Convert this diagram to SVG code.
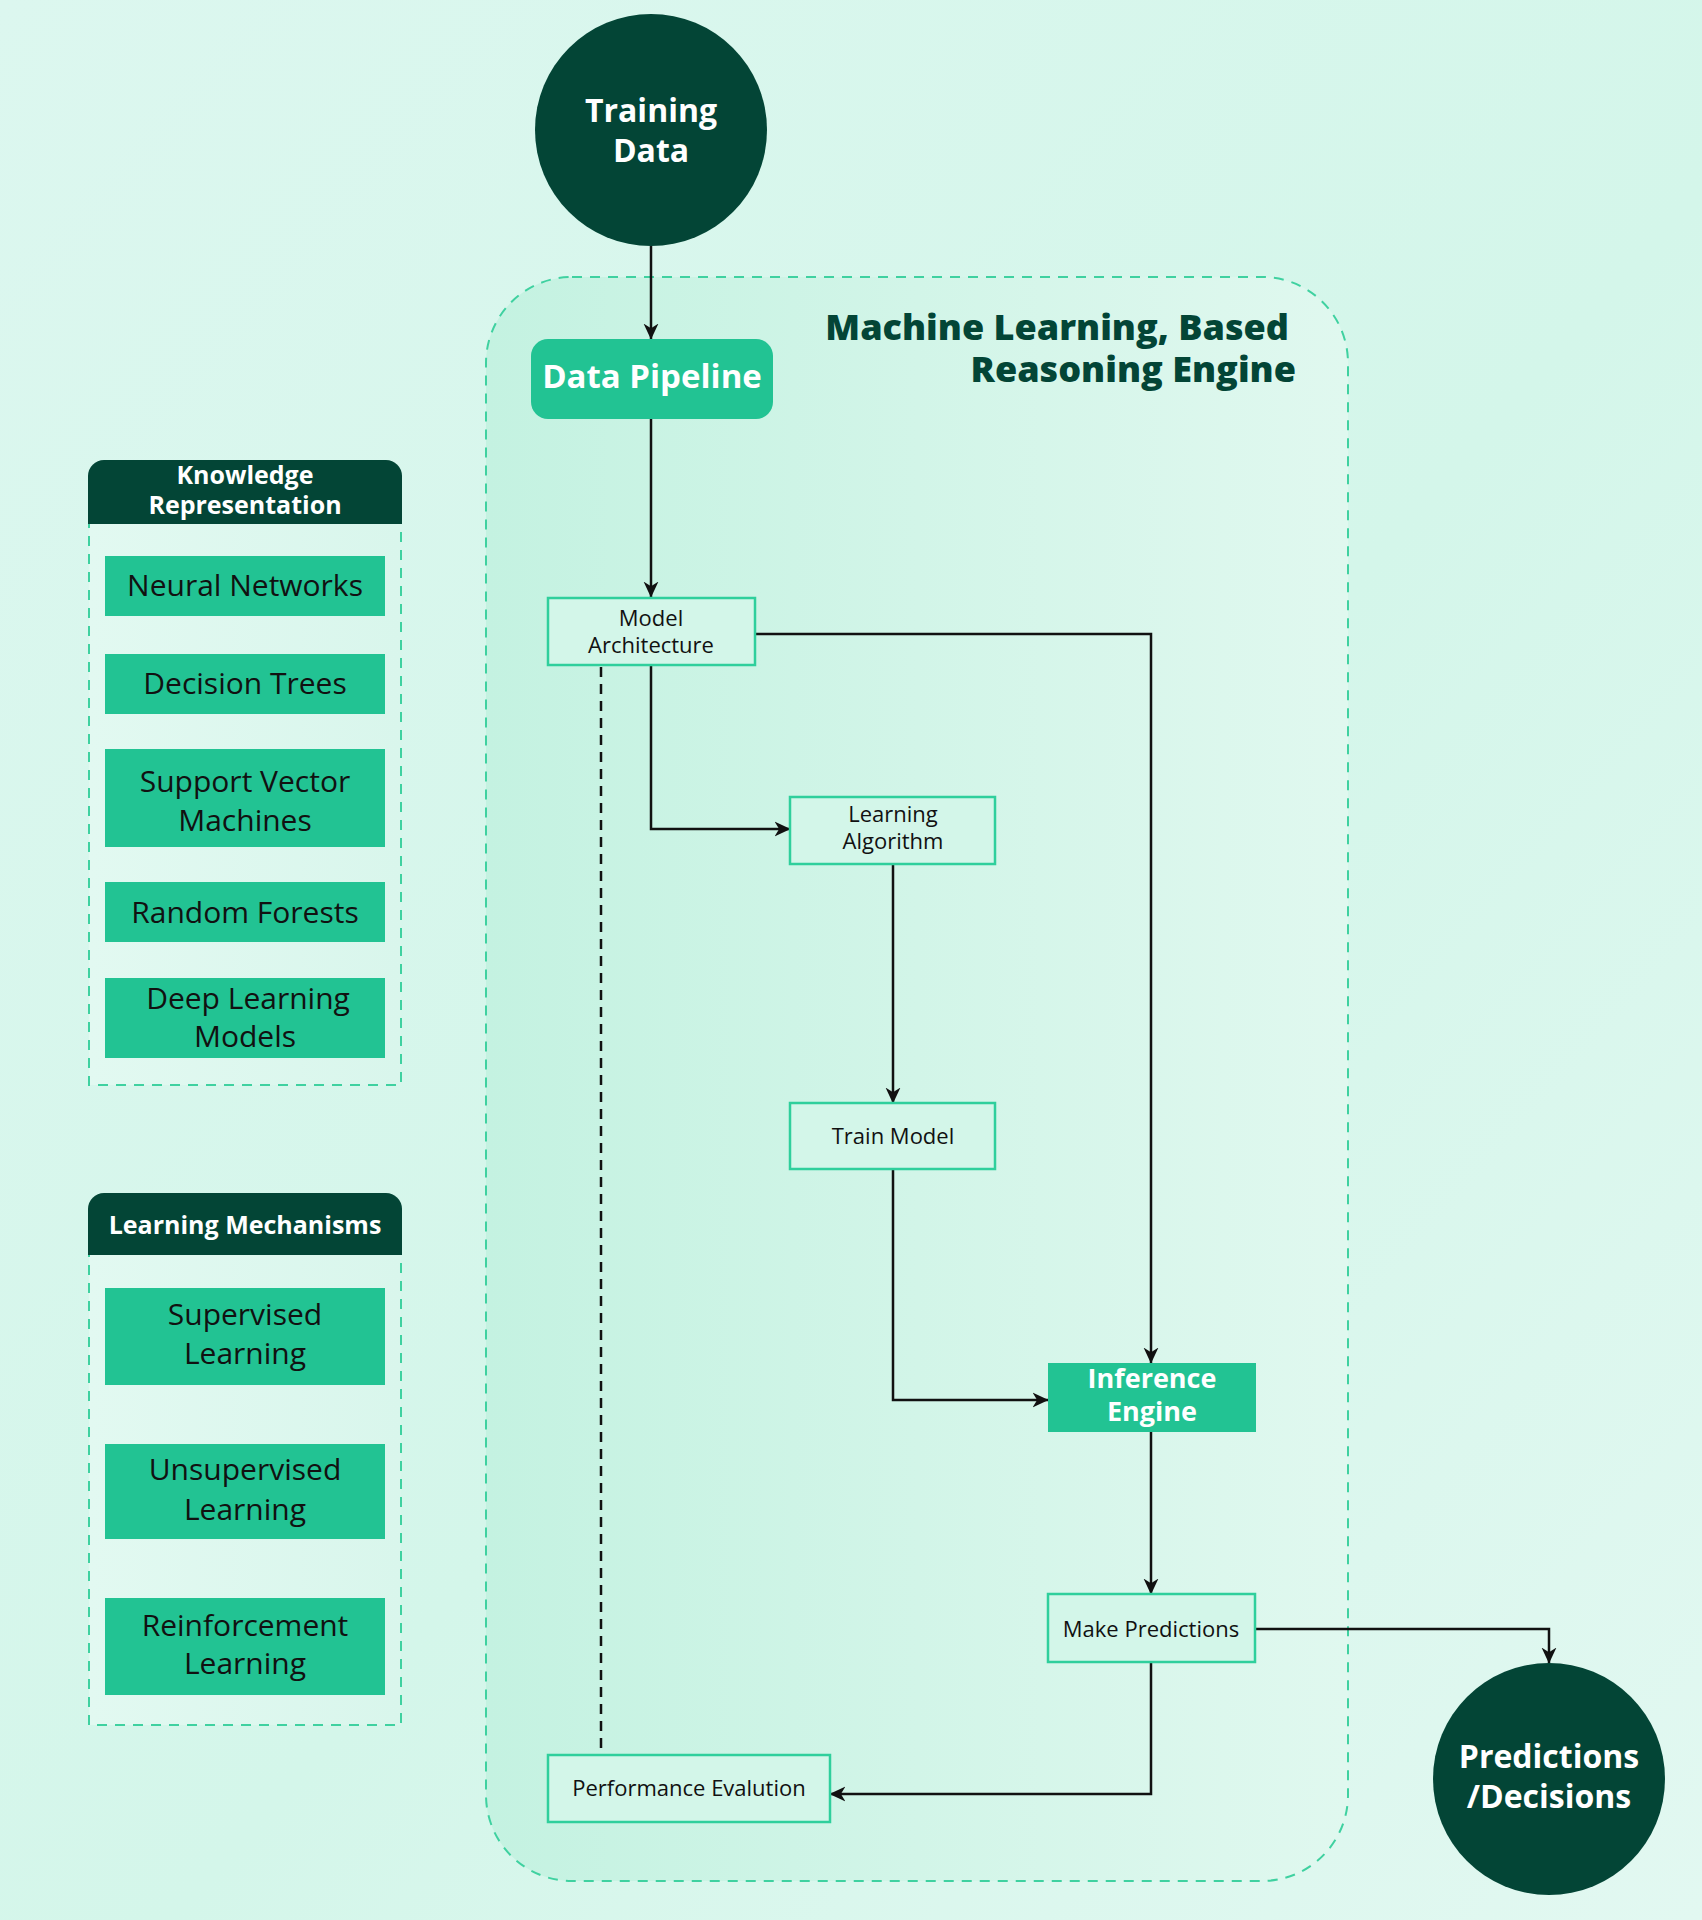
<svg xmlns="http://www.w3.org/2000/svg" width="1702" height="1920" viewBox="0 0 1702 1920">
<defs>
<linearGradient id="bg" x1="0" y1="0" x2="1" y2="1">
<stop offset="0" stop-color="#dcf7ef"/>
<stop offset="0.55" stop-color="#d4f6ea"/>
<stop offset="1" stop-color="#e2f8f1"/>
</linearGradient>
<linearGradient id="cont" x1="0" y1="0" x2="1" y2="0">
<stop offset="0" stop-color="#c4f2e1"/>
<stop offset="1" stop-color="#e0f8ef"/>
</linearGradient>
<linearGradient id="side" x1="0" y1="0" x2="1" y2="0">
<stop offset="0" stop-color="#e2f9f1"/>
<stop offset="1" stop-color="#d9f6ec"/>
</linearGradient>
<marker id="arr" viewBox="0 0 14 14" refX="13.5" refY="7" markerWidth="16" markerHeight="16" markerUnits="userSpaceOnUse" orient="auto">
<path d="M0,0.5 L14,7 L0,13.5 L4,7 z" fill="#111"/>
</marker>
</defs>
<style>
text{font-family:"Open Sans","Noto Sans",sans-serif;}
.dark{fill:#034536;}
.green{fill:#22c393;}
.box{fill:#d3f6e9;stroke:#2fcf9c;stroke-width:2.5;}
.dash{fill:url(#side);stroke:#3fd1a0;stroke-width:2;stroke-dasharray:10 8;}
.wt{fill:#ffffff;font-weight:700;text-anchor:middle;}
.it{fill:#111;font-size:30px;text-anchor:middle;}
.bt{fill:#111;font-size:22px;text-anchor:middle;}
.ht{fill:#ffffff;font-weight:700;font-size:25px;text-anchor:middle;}
.ln{fill:none;stroke:#111;stroke-width:2.5;}
</style>
<rect x="0" y="0" width="1702" height="1920" fill="url(#bg)"/>

<g id="ml-engine-container">
<rect x="486" y="277" width="862" height="1604" rx="86" ry="86" fill="url(#cont)" stroke="#3fd1a0" stroke-width="2" stroke-dasharray="10 8"/>
<text x="1289" y="340" font-size="36" font-weight="800" fill="#034536" text-anchor="end">Machine Learning, Based</text>
<text x="1296" y="382" font-size="36" font-weight="800" fill="#034536" text-anchor="end">Reasoning Engine</text>
</g>

<g id="knowledge-representation">
<rect class="dash" x="89" y="520" width="312" height="565"/>
<path class="dark" d="M88,524 V476 A16,16 0 0 1 104,460 H386 A16,16 0 0 1 402,476 V524 Z"/>
<text class="ht" x="245" y="484">Knowledge</text>
<text class="ht" x="245" y="514">Representation</text>
<g id="kr-neural-networks"><rect class="green" x="105" y="556" width="280" height="60"/><text class="it" x="245" y="596">Neural Networks</text></g>
<g id="kr-decision-trees"><rect class="green" x="105" y="654" width="280" height="60"/><text class="it" x="245" y="694">Decision Trees</text></g>
<g id="kr-svm"><rect class="green" x="105" y="749" width="280" height="98"/><text class="it" x="245" y="792">Support Vector</text><text class="it" x="245" y="831">Machines</text></g>
<g id="kr-random-forests"><rect class="green" x="105" y="882" width="280" height="60"/><text class="it" x="245" y="923">Random Forests</text></g>
<g id="kr-deep-learning"><rect class="green" x="105" y="978" width="280" height="80"/><text class="it" x="248" y="1009">Deep Learning</text><text class="it" x="245" y="1047">Models</text></g>
</g>

<g id="learning-mechanisms">
<rect class="dash" x="89" y="1251" width="312" height="474"/>
<path class="dark" d="M88,1255 V1209 A16,16 0 0 1 104,1193 H386 A16,16 0 0 1 402,1209 V1255 Z"/>
<text class="ht" x="245" y="1234">Learning Mechanisms</text>
<g id="lm-supervised"><rect class="green" x="105" y="1288" width="280" height="97"/><text class="it" x="245" y="1325">Supervised</text><text class="it" x="245" y="1364">Learning</text></g>
<g id="lm-unsupervised"><rect class="green" x="105" y="1444" width="280" height="95"/><text class="it" x="245" y="1480">Unsupervised</text><text class="it" x="245" y="1520">Learning</text></g>
<g id="lm-reinforcement"><rect class="green" x="105" y="1598" width="280" height="97"/><text class="it" x="245" y="1636">Reinforcement</text><text class="it" x="245" y="1674">Learning</text></g>
</g>

<g id="connectors">
<line class="ln" x1="651" y1="246" x2="651" y2="339" marker-end="url(#arr)"/>
<line class="ln" x1="651" y1="419" x2="651" y2="597" marker-end="url(#arr)"/>
<polyline class="ln" points="755,634 1151,634 1151,1363" marker-end="url(#arr)"/>
<polyline class="ln" points="651,665 651,829 790,829" marker-end="url(#arr)"/>
<line class="ln" x1="893" y1="864" x2="893" y2="1103" marker-end="url(#arr)"/>
<polyline class="ln" points="893,1169 893,1400 1048,1400" marker-end="url(#arr)"/>
<line class="ln" x1="1151" y1="1432" x2="1151" y2="1594" marker-end="url(#arr)"/>
<polyline class="ln" points="1255,1629 1549,1629 1549,1663" marker-end="url(#arr)"/>
<polyline class="ln" points="1151,1662 1151,1794 830,1794" marker-end="url(#arr)"/>
<line class="ln" x1="601" y1="667" x2="601" y2="1755" stroke-dasharray="10 7"/>
</g>

<g id="training-data">
<circle class="dark" cx="651" cy="130" r="116"/>
<text class="wt" x="651" y="122" font-size="32">Training</text>
<text class="wt" x="651" y="162" font-size="32">Data</text>
</g>

<g id="data-pipeline">
<rect class="green" x="531" y="339" width="242" height="80" rx="17" ry="17"/>
<text class="wt" x="652" y="388" font-size="33">Data Pipeline</text>
</g>

<g id="model-architecture">
<rect class="box" x="548" y="598" width="207" height="67"/>
<text class="bt" x="651" y="626">Model</text>
<text class="bt" x="651" y="653">Architecture</text>
</g>

<g id="learning-algorithm">
<rect class="box" x="790" y="797" width="205" height="67"/>
<text class="bt" x="893" y="822">Learning</text>
<text class="bt" x="893" y="849">Algorithm</text>
</g>

<g id="train-model">
<rect class="box" x="790" y="1103" width="205" height="66"/>
<text class="bt" x="893" y="1144">Train Model</text>
</g>

<g id="inference-engine">
<rect class="green" x="1048" y="1363" width="208" height="69"/>
<text class="wt" x="1152" y="1388" font-size="27">Inference</text>
<text class="wt" x="1152" y="1421" font-size="27">Engine</text>
</g>

<g id="make-predictions">
<rect class="box" x="1048" y="1594" width="207" height="68"/>
<text class="bt" x="1151" y="1637">Make Predictions</text>
</g>

<g id="performance-evaluation">
<rect class="box" x="548" y="1755" width="282" height="67"/>
<text class="bt" x="689" y="1796">Performance Evalution</text>
</g>

<g id="predictions-decisions">
<circle class="dark" cx="1549" cy="1779" r="116"/>
<text class="wt" x="1549" y="1768" font-size="32">Predictions</text>
<text class="wt" x="1549" y="1808" font-size="32">/Decisions</text>
</g>
</svg>
